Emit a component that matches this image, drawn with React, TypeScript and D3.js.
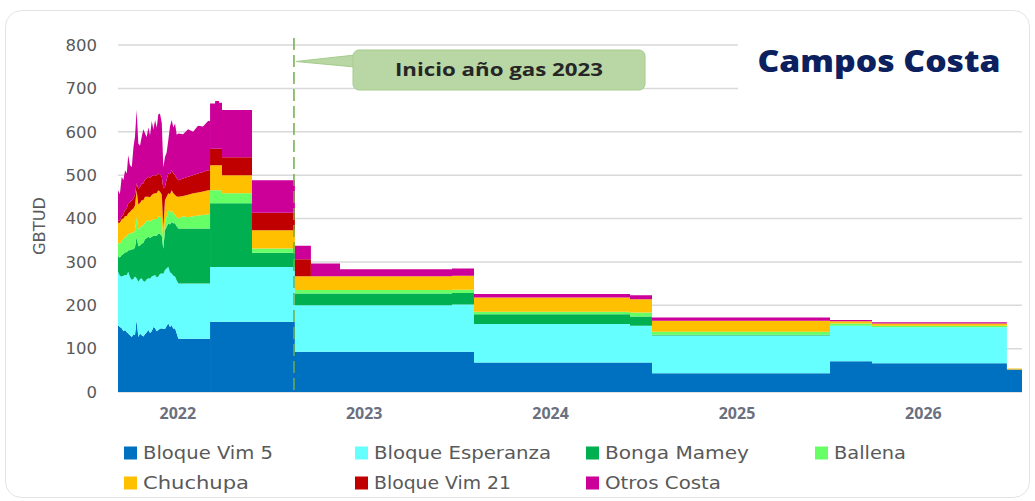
import React from 'react';
import * as d3 from 'd3';

// ---- Data ----
const seriesNames = ['Bloque Vim 5', 'Bloque Esperanza', 'Bonga Mamey', 'Ballena', 'Chuchupa', 'Bloque Vim 21', 'Otros Costa'];
const seriesColors = ['#0070C0', '#66FFFF', '#00B050', '#66FF66', '#FFC000', '#C00000', '#CC0099'];
const legendWidths = [130, 177, 144, 72, 106, 137, 116];

// daily (noisy) period, time in decimal years
const dailyTime = [2021.679, 2021.689, 2021.699, 2021.708, 2021.717, 2021.726, 2021.734, 2021.743, 2021.753, 2021.762,
  2021.770, 2021.779, 2021.788, 2021.797, 2021.806, 2021.815, 2021.824, 2021.833, 2021.842, 2021.851,
  2021.860, 2021.869, 2021.878, 2021.887, 2021.895, 2021.904, 2021.914, 2021.922, 2021.931, 2021.940,
  2021.949, 2021.958, 2021.967, 2021.976, 2021.985, 2021.994, 2022.003, 2022.028, 2022.055, 2022.082,
  2022.108, 2022.135, 2022.162, 2022.176];
const vim5Daily = [154, 150, 147, 140, 143, 138, 135, 131, 127, 133, 131, 166, 127, 135, 131, 128, 133, 138, 143, 136,
  140, 150, 147, 140, 143, 146, 147, 145, 145, 152, 158, 150, 154, 146, 147, 135, 123, 123, 123, 123, 123, 123, 123, 123];
const esperanzaDaily = [123, 118, 119, 128, 127, 132, 142, 134, 131, 128, 135, 96, 127, 125, 131, 128, 121, 122, 119, 125,
  126, 118, 123, 124, 123, 126, 127, 127, 136, 133, 131, 126, 119, 122, 119, 122, 127, 127, 127, 127, 127, 127, 127, 127];
const bongaDaily = [35, 42, 50, 50, 52, 52, 50, 62, 71, 68, 67, 96, 82, 78, 80, 88, 98, 95, 96, 94,
  92, 92, 90, 96, 99, 92, 86, 58, 92, 96, 100, 110, 119, 121, 123, 125, 127, 127, 127, 127, 127, 127, 127, 127];
const ballenaDaily = [31, 32, 33, 34, 36, 37, 38, 38, 38, 39, 39, 46, 40, 41, 42, 40, 39, 39, 38, 38,
  38, 38, 38, 39, 39, 40, 40, 15, 19, 25, 30, 28, 27, 23, 19, 21, 23, 28, 26, 28, 30, 31, 33, 33];
const chuchupaDaily = [47, 48, 49, 48, 48, 47, 47, 50, 53, 55, 58, 61, 56, 57, 58, 58, 59, 56, 54, 56,
  58, 59, 60, 60, 61, 58, 55, 35, 50, 44, 39, 42, 46, 46, 46, 48, 50, 47, 52, 53, 53, 54, 55, 55];
const vim21Daily = [5, 6, 7, 10, 14, 18, 23, 22, 22, 24, 25, 16, 36, 37, 38, 39, 40, 43, 46, 45,
  44, 43, 42, 40, 39, 40, 41, 90, 31, 40, 46, 46, 46, 46, 46, 42, 38, 40, 41, 42, 44, 45, 46, 46];
const otrosDaily = [70, 60, 91, 78, 91, 80, 111, 86, 77, 118, 133, 169, 105, 95, 108, 125, 106, 95, 114, 98,
  127, 105, 127, 110, 136, 140, 124, 48, 69, 62, 77, 110, 116, 106, 119, 100, 108, 102, 110, 100, 110, 105, 114, 114];

// step period
const stepTime = [2022.173, 2022.200, 2022.221, 2022.237, 2022.398, 2022.628, 2022.714, 2022.870, 2023.471, 2023.589,
  2024.426, 2024.544, 2025.499, 2025.724, 2026.448, 2026.529];
const vim5Step = [162, 162, 162, 162, 162, 93, 93, 93, 93, 68, 68, 43, 71, 66, 52, 52];
const esperanzaStep = [126, 126, 126, 126, 126, 107, 107, 107, 109, 89, 85, 87, 82, 83, 0, 0];
const bongaStep = [147, 147, 147, 147, 33, 27, 27, 27, 26, 22, 21, 2, 0, 0, 0, 0];
const ballenaStep = [30, 30, 30, 23, 10, 8, 8, 8, 8, 6, 9, 7, 5, 4, 0, 0];
const chuchupaStep = [58, 58, 58, 42, 42, 32, 32, 32, 32, 33, 31, 25, 5, 5, 2, 2];
const vim21Step = [38, 38, 38, 41, 40, 39, 0, 0, 0, 0, 0, 0, 0, 0, 0, 0];
const otrosStep = [104, 110, 106, 109, 75, 31, 29, 16, 17, 8, 9, 8, 3, 3, 0, 0];

const yTicks = [0, 100, 200, 300, 400, 500, 600, 700, 800];
const yearTicks = [2022, 2023, 2024, 2025, 2026];
const gasYearStart = 2022.623;
const xDomain = [2021.679, 2026.529];

const dailySeries = [vim5Daily, esperanzaDaily, bongaDaily, ballenaDaily, chuchupaDaily, vim21Daily, otrosDaily];
const stepSeries = [vim5Step, esperanzaStep, bongaStep, ballenaStep, chuchupaStep, vim21Step, otrosStep];

const FONT = "'DejaVu Sans', 'Noto Sans', sans-serif";
const BOLD = "'Open Sans', 'Noto Sans', sans-serif";

export default function App() {
  const left = 118, right = 1022, top = 45, bottom = 392;
  const x = d3.scaleLinear().domain(xDomain).range([left, right]);
  const y = d3.scaleLinear().domain([0, 800]).range([bottom, top]);
  const keys = seriesNames.map((_, i) => 's' + i);

  const buildRows = (times: number[], series: number[][]) =>
    times.map((t, j) => {
      const r: any = { t };
      series.forEach((arr, i) => { r['s' + i] = arr[j]; });
      return r;
    });
  const stack = d3.stack<any>().keys(keys);
  const dailyStack = stack(buildRows(dailyTime, dailySeries));
  const stepStack = stack(buildRows(stepTime, stepSeries));

  const areaLinear = d3.area<any>()
    .x((d) => x(d.data.t)).y0((d) => y(d[0])).y1((d) => y(d[1])).curve(d3.curveLinear);
  const areaStep = d3.area<any>()
    .x((d) => x(d.data.t)).y0((d) => y(d[0])).y1((d) => y(d[1])).curve(d3.curveStepAfter);

  const gx = x(gasYearStart);
  const legendCols = [124, 355, 586, 815];
  const legendRows = [453, 483];

  return (
    <svg width={1035} height={501} style={{ position: 'absolute', left: 0, top: 0, fontFamily: FONT }}>
      <rect x={5.5} y={10.5} width={1024} height={487} rx={16} fill="#fff" stroke="#E3E3E3" />
      {/* gridlines */}
      {yTicks.map((v) => (
        <line key={v} x1={left} x2={right} y1={y(v)} y2={y(v)} stroke="#D9D9D9" strokeWidth={1.5} />
      ))}
      {/* title background box covering gridlines */}
      <rect x={738} y={30} width={286} height={72} fill="#fff" />
      {/* areas */}
      {dailyStack.map((s, i) => (
        <path key={'d' + i} d={areaLinear(s) || ''} fill={seriesColors[i]} />
      ))}
      {stepStack.map((s, i) => (
        <path key={'s' + i} d={areaStep(s) || ''} fill={seriesColors[i]} />
      ))}
      {/* y axis labels */}
      {yTicks.map((v) => (
        <text key={'yl' + v} x={97} y={y(v)} dy="0.35em" textAnchor="end" fontSize={16.5} fill="#595959">{v}</text>
      ))}
      <text transform={`translate(39,226) rotate(-90)`} textAnchor="middle" dy="0.35em" fontSize={16} fill="#595959"
        textLength={58} lengthAdjust="spacingAndGlyphs">GBTUD</text>
      {/* x labels */}
      {yearTicks.map((yr) => (
        <text key={'x' + yr} x={x(yr)} y={413} dy="0.35em" textAnchor="middle" fontSize={16} fontWeight={700}
          fill="#6B7080" style={{ fontFamily: BOLD }}>{yr}</text>
      ))}
      {/* gas year line */}
      <line x1={gx} x2={gx} y1={38} y2={bottom} stroke="#70AD47" strokeWidth={1.5} strokeDasharray="12,5" />
      {/* callout */}
      <path d={`M${gx + 2},${61.5} L355,55 L355,67 Z`} fill="#B8D7A4" stroke="#A5CB8C" strokeWidth={1} />
      <rect x={353} y={50} width={292} height={40} rx={6} fill="#B8D7A4" stroke="#A5CB8C" strokeWidth={1} />
      <rect x={353.6} y={55.5} width={4} height={11} fill="#B8D7A4" />
      <text x={499} y={70} dy="0.35em" textAnchor="middle" fontSize={17} fontWeight={700} fill="#262626"
        textLength={208} lengthAdjust="spacingAndGlyphs" style={{ fontFamily: BOLD }}>Inicio año gas 2023</text>
      {/* title */}
      <text x={879} y={61} dy="0.35em" textAnchor="middle" fontSize={30} fontWeight={800} fill="#0C1F5E"
        textLength={243} lengthAdjust="spacingAndGlyphs" style={{ fontFamily: BOLD }}>Campos Costa</text>
      {/* legend */}
      {seriesNames.map((n, i) => {
        const cx = legendCols[i % 4];
        const cy = legendRows[Math.floor(i / 4)];
        return (
          <g key={'lg' + i}>
            <rect x={cx} y={cy - 6.5} width={13} height={13} fill={seriesColors[i]} />
            <text x={cx + 19} y={cy} dy="0.35em" fontSize={17.5} fill="#595959"
              textLength={legendWidths[i]} lengthAdjust="spacingAndGlyphs">{n}</text>
          </g>
        );
      })}
    </svg>
  );
}
